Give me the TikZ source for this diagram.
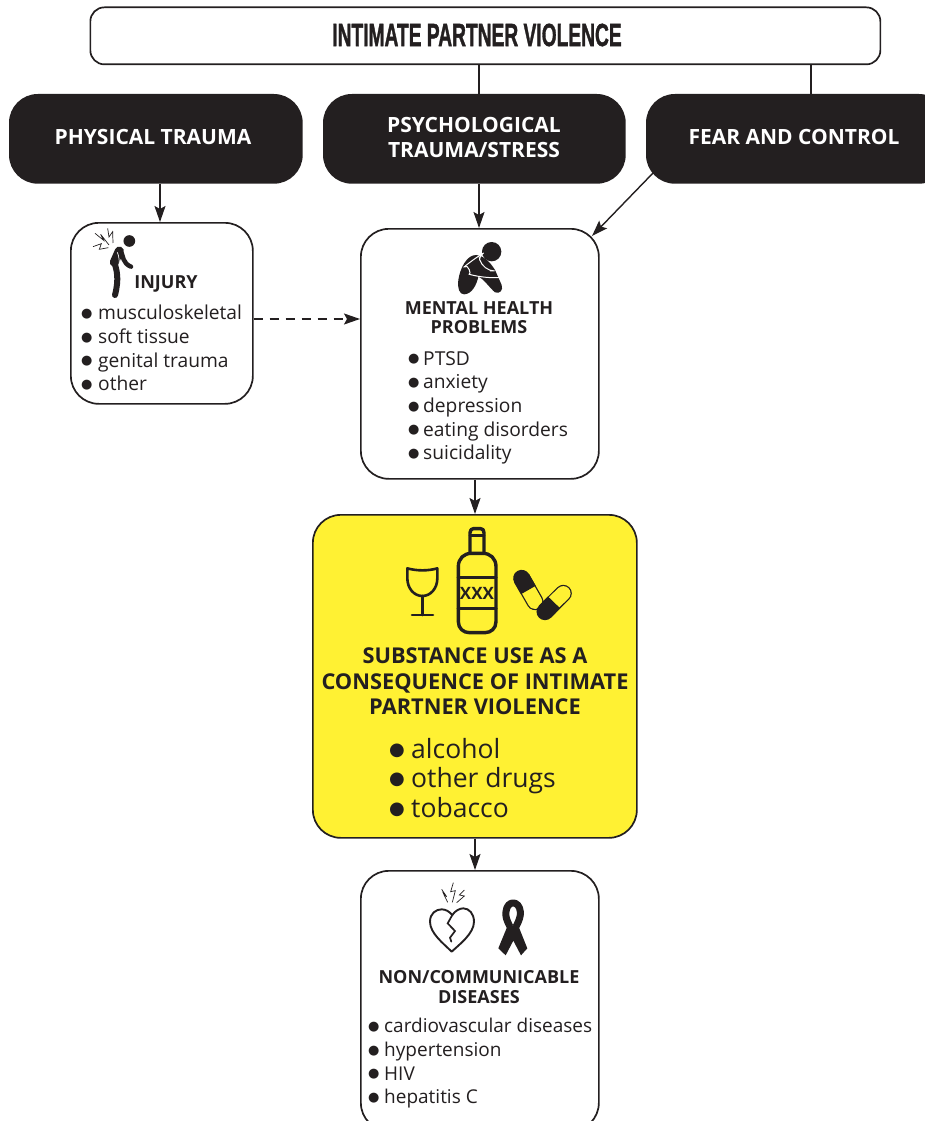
\documentclass[tikz,border=0pt]{standalone}
\usepackage{fontspec}
\setmainfont{Open Sans}
\newfontfamily\titlefont[FakeBold=1.6]{Liberation Sans Bold}
\newfontfamily\bulfont{DejaVu Sans}
\definecolor{ink}{HTML}{231F20}
\definecolor{sub}{HTML}{FFF133}
\newcommand{\bul}[2]{\makebox[#1][l]{\raisebox{0.12em}{\fontsize{#2}{#2}\bulfont ●}}}
\tikzset{
 box/.style={draw=ink,line width=1.7pt,rounded corners=28pt,fill=white,inner sep=0pt,anchor=north west},
 dark/.style={box,fill=ink,text=white,font=\fontsize{21}{25}\selectfont\bfseries,align=center},
 head/.style={inner sep=0pt,align=center,text=ink,font=\fontsize{18}{19.5}\selectfont\bfseries},
 items/.style={inner sep=0pt,align=left,anchor=north west,text=ink,font=\fontsize{19.2}{23.7}\selectfont},
 conn/.style={draw=ink,line width=1.4pt,-{Stealth[length=16pt,width=11pt,inset=3pt]}},
 plain/.style={draw=ink,line width=1.4pt},
 icon/.style={draw=ink,line cap=round,line join=round},
 bolt/.style={draw=ink,line width=0.7pt,line join=miter},
}
\usetikzlibrary{arrows.meta,calc}
\begin{document}
\begin{tikzpicture}[x=1pt,y=-1pt]
\useasboundingbox (0,0) rectangle (925,1121);
\clip (0,0) rectangle (925,1121);
% boxes
\node[box,rounded corners=14pt,minimum width=790pt,minimum height=57pt] (title) at (89.5,6.5) {};
\node[dark,minimum width=292pt,minimum height=88pt] (phys) at (9,94) {};
\node[dark,minimum width=301pt,minimum height=88pt] (psych) at (323,94) {};
\node[box,fill=ink,minimum width=300pt,minimum height=88pt] (fear) at (646,94) {};
\node[box,minimum width=182pt,minimum height=181pt] (inj) at (70,222) {};
\node[box,minimum width=238pt,minimum height=250pt] (ment) at (360,228) {};
\node[box,fill=sub,minimum width=324pt,minimum height=323pt] (subs) at (312,514) {};
\node[box,minimum width=238pt,minimum height=260pt] (ncd) at (360,870) {};
% connectors
\draw[plain] (title.south -| 479,0) -- (psych.north -| 479,0);
\draw[plain] (title.south -| 811,0) -- (fear.north -| 811,0);
\draw[conn] (phys.south -| 160,0) -- (inj.north -| 160,0);
\draw[conn] (psych.south -| 479,0) -- (ment.north -| 479,0);
\coordinate (fearout) at (654,172);
\coordinate (mentin) at (592,236);
\draw[conn] (fearout) -- (mentin);
\draw[conn,dash pattern=on 9pt off 7pt] (inj.east |- 0,319) -- (ment.west |- 0,319);
\draw[conn] (ment.south -| 475,0) -- (subs.north -| 475,0);
\draw[conn] (subs.south -| 475,0) -- (ncd.north -| 475,0);
% title text
\node[inner sep=0pt,text=ink] (ttl) at (477,35) {\scalebox{0.6}[1]{\titlefont\fontsize{32}{33}\selectfont INTIMATE PARTNER VIOLENCE}};
% dark box texts
\node[inner sep=0pt,text=white,font=\fontsize{21}{25}\selectfont\bfseries] (physt) at (153,137) {PHYSICAL TRAUMA};
\node[inner sep=0pt,text=white,align=center,font=\fontsize{21}{25}\selectfont\bfseries] (psycht) at (474,137) {PSYCHOLOGICAL\\TRAUMA/STRESS};
\node[inner sep=0pt,text=white,font=\fontsize{21}{25}\selectfont\bfseries] (feart) at (794,137) {FEAR AND CONTROL};
% texts
\node[head] (injh) at (166,283.5) {INJURY};
\node[items] (injl) at (81,305) {\bul{17pt}{13}musculoskeletal\\\bul{17pt}{13}soft tissue\\\bul{17pt}{13}genital trauma\\\bul{17pt}{13}other};
\node[head] (menth) at (479,317.5) {MENTAL HEALTH\\PROBLEMS};
\node[items] (mentl) at (408,351) {\bul{15pt}{13}PTSD\\\bul{15pt}{13}anxiety\\\bul{15pt}{13}depression\\\bul{15pt}{13}eating disorders\\\bul{15pt}{13}suicidality};
\node[head,font=\fontsize{21.8}{25.5}\selectfont\bfseries] (subh) at (475,681.5) {SUBSTANCE USE AS A\\CONSEQUENCE OF INTIMATE\\PARTNER VIOLENCE};
\node[items,font=\fontsize{26.5}{29.5}\selectfont] (subl) at (389,738) {\bul{22pt}{18}alcohol\\\bul{22pt}{18}other drugs\\\bul{22pt}{18}tobacco};
\node[head] (ncdh) at (479,987) {NON/COMMUNICABLE\\DISEASES};
\node[items,font=\fontsize{19}{23.7}\selectfont] (ncdl) at (368,1018) {\bul{16pt}{13}cardiovascular diseases\\\bul{16pt}{13}hypertension\\\bul{16pt}{13}HIV\\\bul{16pt}{13}hepatitis C};
% injury icon
\begin{scope}[shift={(60,215)},x=0.3333pt,y=-0.3333pt]
\fill[ink] (208,78) circle (17.5);
\draw[icon,line width=6pt] (165,240) .. controls (178,190) and (170,165) .. (163,142);
\draw[icon,line width=9pt] (163,142) -- (178,108);
\draw[icon,line width=4.5pt] (182,105) .. controls (190,125) and (188,145) .. (213,155);
\draw[white,line width=0.7pt] (172,112) .. controls (178,125) and (178,140) .. (178,155);
\draw[bolt] (105,55) -- (131,76) -- (122,58) -- (147,90);
\draw[bolt] (143,40) -- (147,66) -- (158,50) -- (159,84);
\draw[bolt] (99,95) -- (124,86) -- (118,103) -- (145,98);
\end{scope}
% mental icon
\begin{scope}[shift={(440,235)},x=0.3333pt,y=-0.3333pt]
\fill[ink] (155,50) circle (29);
\fill[ink] (72,178) .. controls (58,178) and (52,160) .. (55,135)
  .. controls (60,100) and (80,60) .. (108,60)
  .. controls (130,62) and (150,80) .. (165,105) -- (185,150)
  .. controls (190,165) and (180,178) .. (165,172)
  .. controls (150,160) and (130,130) .. (115,125)
  .. controls (110,150) and (95,178) .. (72,178) -- cycle;
\draw[white,line width=1pt,rounded corners=12pt] (178,128) -- (122,128) .. controls (95,120) and (85,85) .. (100,72) .. controls (112,65) and (122,85) .. (128,108) -- (150,108);
\end{scope}
% substance icons
\begin{scope}[shift={(390,520)},x=0.3333pt,y=-0.3333pt]
\draw[icon,line width=2.6pt] (52,145) .. controls (80,153) and (115,153) .. (142,145) -- (142,175) .. controls (142,205) and (122,228) .. (97,228) .. controls (72,228) and (52,205) .. (52,175) -- cycle;
\draw[icon,line width=2.6pt] (97,228) -- (97,285) (66,285) -- (129,285);
\draw[icon,line width=3.4pt] (205,140) .. controls (205,115) and (222,100) .. (245,100) -- (278,100) .. controls (301,100) and (318,115) .. (318,140) -- (318,305) .. controls (318,325) and (303,338) .. (285,338) -- (238,338) .. controls (220,338) and (205,325) .. (205,305) -- cycle;
\draw[icon,line width=3.4pt] (240,100) -- (240,38) .. controls (240,30) and (245,26) .. (250,26) -- (272,26) .. controls (278,26) and (282,30) .. (282,38) -- (282,100);
\draw[icon,line width=2.6pt] (240,46) -- (282,46);
\draw[icon,line width=3.4pt] (205,172) -- (318,172) (205,265) -- (318,265);
\node[inner sep=0pt,text=ink,font=\fontsize{17}{18}\selectfont] (xxx) at (261,219) {\textbf{XXX}};
% pills
\draw[ink,line width=17pt,line cap=round] (395,175) -- (435,245);
\draw[sub,line width=14.5pt,line cap=round] (415,210) -- (435,245);
\draw[ink,line width=17pt] (395,175) -- (415,210);
\draw[ink,line width=17pt,line cap=round] (520,220) -- (465,275);
\draw[sub,line width=14.5pt,line cap=round] (492,247) -- (520,220);
\draw[ink,line width=17pt] (465,275) -- (492,247);
\end{scope}
% heart and ribbon
\begin{scope}[shift={(410,870)},x=0.3333pt,y=-0.3333pt]
\draw[icon,line width=1.9pt] (125,245) .. controls (100,220) and (60,190) .. (60,155) .. controls (60,130) and (78,118) .. (95,118) .. controls (108,118) and (118,125) .. (127,135) .. controls (135,122) and (150,115) .. (160,115) .. controls (178,115) and (192,132) .. (192,155) .. controls (192,190) and (150,222) .. (125,245) -- cycle;
\draw[icon,line width=1.7pt,line join=miter] (127,135) -- (113,160) -- (135,183) -- (120,203) -- (124,215);
\draw[bolt] (95,58) -- (110,80) -- (100,70) -- (113,97);
\draw[bolt] (130,38) -- (122,65) -- (136,62) -- (127,97);
\draw[bolt] (163,60) -- (148,75) -- (163,78) -- (140,98);
\draw[ink,line width=7pt,line join=round] (300,170) .. controls (290,150) and (286,140) .. (288,125) .. controls (291,90) and (328,90) .. (331,125) .. controls (332,140) and (328,150) .. (318,170);
\fill[ink] (300,150) -- (265,235) -- (287,256) -- (310,212) -- (333,256) -- (352,235) -- (318,150) -- (309,168) -- cycle;
\end{scope}
\end{tikzpicture}
\end{document}
